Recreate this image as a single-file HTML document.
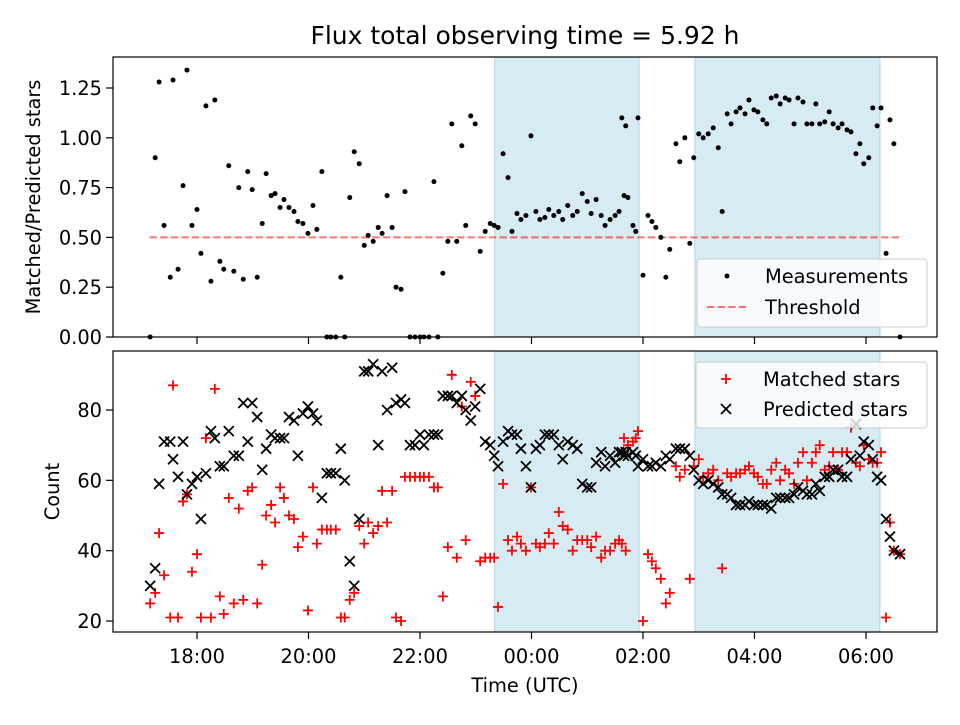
<!DOCTYPE html>
<html><head><meta charset="utf-8"><style>
body{margin:0;background:#fff}
svg text{font-family:"DejaVu Sans","Liberation Sans",sans-serif;fill:#000}
</style></head><body>
<svg id="chart" width="960" height="720" xmlns="http://www.w3.org/2000/svg"></svg>
<script>
const times=[17.16,17.25,17.32,17.41,17.52,17.57,17.66,17.75,17.82,17.91,18.00,18.07,18.16,18.25,18.32,18.41,18.48,18.57,18.66,18.75,18.83,18.91,18.99,19.08,19.17,19.24,19.33,19.40,19.49,19.56,19.65,19.74,19.81,19.90,19.99,20.08,20.15,20.24,20.33,20.40,20.49,20.58,20.65,20.74,20.82,20.91,21.00,21.07,21.16,21.25,21.32,21.41,21.50,21.57,21.66,21.73,21.82,21.91,22.00,22.07,22.16,22.25,22.32,22.41,22.50,22.57,22.66,22.75,22.82,22.91,22.99,23.08,23.17,23.26,23.33,23.40,23.49,23.58,23.65,23.74,23.81,23.90,23.99,24.08,24.15,24.24,24.31,24.40,24.49,24.56,24.65,24.74,24.82,24.91,25.00,25.07,25.16,25.25,25.32,25.41,25.50,25.57,25.66,25.73,25.62,25.69,25.82,25.87,25.91,26.00,26.09,26.16,26.23,26.32,26.41,26.48,26.59,26.66,26.75,26.84,26.91,27.00,27.08,27.17,27.26,27.35,27.42,27.51,27.58,27.67,27.74,27.83,27.90,27.99,28.06,28.15,28.22,28.30,28.39,28.46,28.55,28.62,28.71,28.78,28.87,28.94,29.03,29.10,29.17,29.26,29.34,29.41,29.50,29.57,29.66,29.73,29.82,29.89,29.96,30.05,30.12,30.20,30.27,30.36,30.43,30.50,30.61];
const ratio=[0,0.90,1.28,0.56,0.30,1.29,0.34,0.76,1.34,0.56,0.64,0.42,1.16,0.28,1.19,0.38,0.34,0.86,0.33,0.75,0.29,0.83,0.74,0.30,0.57,0.82,0.71,0.72,0.65,0.69,0.65,0.63,0.58,0.57,0.52,0.66,0.54,0.83,0,0,0,0.30,0,0.70,0.93,0.87,0.46,0.51,0.48,0.55,0.52,0.71,0.55,0.25,0.24,0.73,0,0,0,0,0,0.78,0,0.32,0.48,1.07,0.48,0.96,0.56,1.11,1.07,0.43,0.53,0.57,0.56,0.55,0.92,0.80,0.53,0.62,0.59,0.61,1.01,0.63,0.59,0.60,0.64,0.61,0.63,0.59,0.66,0.61,0.63,0.72,0.68,0.62,0.69,0.61,0.56,0.59,0.61,0.63,0.71,0.70,1.10,1.06,0.56,0.53,1.10,0.31,0.61,0.58,0.55,0.50,0.30,0.44,0.97,0.88,1.00,0.47,0.90,1.02,1.00,1.02,1.05,0.95,0.63,1.12,1.07,1.13,1.15,1.12,1.19,1.14,1.13,1.09,1.07,1.20,1.21,1.17,1.20,1.19,1.07,1.20,1.18,1.07,1.07,1.17,1.07,1.08,1.13,1.07,1.05,1.07,1.04,1.03,0.92,0.97,0.87,0.90,1.15,1.06,1.15,0.42,1.09,0.97,0];
const matched=[25,28,45,33,21,87,21,54,56,34,39,21,72,21,86,27,22,55,25,52,26,57,58,25,36,50,53,48,58,55,50,49,41,44,23,58,42,46,46,46,46,21,21,26,28,47,42,48,45,47,57,48,57,21,20,61,61,61,61,61,61,58,58,27,41,90,38,81,43,88,84,37,38,38,38,24,59,43,40,44,42,40,58,42,41,42,45,42,51,47,46,40,43,43,43,41,44,38,40,40,42,43,72,70,42,40,71,72,74,20,39,37,35,32,25,28,64,61,63,32,64,66,61,62,63,60,35,62,61,62,62,63,64,62,61,59,59,63,65,60,63,62,59,65,68,60,65,68,70,63,64,68,63,68,68,75,65,64,70,66,65,65,68,21,48,40,39];
const predicted=[30,35,59,71,71,66,61,71,56,59,61,49,62,74,72,64,64,74,67,67,82,71,82,78,63,69,73,72,72,72,78,77,67,79,81,79,77,55,62,62,62,69,60,37,30,49,91,91,93,70,91,80,92,82,83,82,70,70,73,70,73,73,73,84,84,84,82,84,80,77,81,86,71,70,67,64,71,74,73,73,69,64,58,69,70,73,73,73,70,66,71,70,69,59,58,58,65,68,64,67,65,68,67,67,68,68,68,67,64,66,64,64,65,64,67,66,69,69,69,67,63,60,59,60,59,58,56,56,55,53,53,53,54,53,53,53,53,52,55,55,55,55,56,58,57,56,56,59,57,61,61,63,63,61,61,66,76,67,71,70,66,61,60,49,44,40,39];
const spans=[[23.34,25.93],[26.93,30.25]];
const threshold=0.5, thrRange=[17.15,30.6];
const xTicks=[18,20,22,24,26,28,30];
const xTickLabels=["18:00","20:00","22:00","00:00","02:00","04:00","06:00"];
const topTicks=[0,0.25,0.5,0.75,1.0,1.25];
const botTicks=[20,40,60,80];

const NS="http://www.w3.org/2000/svg";
const svg=document.getElementById('chart');
function el(tag,attrs,parent){const e=document.createElementNS(NS,tag);for(const k in attrs)e.setAttribute(k,attrs[k]);(parent||svg).appendChild(e);return e;}
const L=113,R=937;
const FS=19.4;
const x=h=>197+(h-18)*55.75;
const T={top:57,bot:337}, B={top:351,bot:632};
const yT=v=>337-v*199.2;
const yB=c=>621-(c-20)*3.5167;

let t=el('text',{x:525,y:44,'text-anchor':'middle','font-size':25});t.textContent='Flux total observing time = 5.92 h';



function panel(P,name){
  const g=el('g',{});
  
  
  spans.forEach((s,i)=>{const r=el('rect',{x:x(s[0]),y:P.top,width:x(s[1])-x(s[0]),height:P.bot-P.top,fill:'#add8e6','fill-opacity':0.5,stroke:'#add8e6'},g);
    
    });
  return g;
}
const gT=panel(T,'top-panel');
const gB=panel(B,'bottom-panel');

let th=el('line',{x1:x(thrRange[0]),x2:x(thrRange[1]),y1:yT(threshold),y2:yT(threshold),stroke:'#ff0000','stroke-opacity':0.55,'stroke-width':2,'stroke-dasharray':'7.4,3.2'},gT);



times.forEach((h,i)=>{const c=el('circle',{cx:x(h),cy:yT(ratio[i]),r:2.5,fill:'#000'},gT);
  
  });

function plus(cx,cy,g){return el('path',{d:`M${cx-5},${cy}H${cx+5}M${cx},${cy-5}V${cy+5}`,stroke:'#f00','stroke-width':1.8},g);}
function cross(cx,cy,g){return el('path',{d:`M${cx-5},${cy-5}L${cx+5},${cy+5}M${cx-5},${cy+5}L${cx+5},${cy-5}`,stroke:'#000','stroke-width':1.8},g);}
times.forEach((h,i)=>{const p=plus(x(h),yB(matched[i]),gB);
  
  });
times.forEach((h,i)=>{const p=cross(x(h),yB(predicted[i]),gB);
  
  });

function axes(P,yticks,yf,fmt,showX,label,name){
  const f=el('rect',{x:L,y:P.top,width:R-L,height:P.bot-P.top,fill:'none',stroke:'#000','stroke-width':1.2});
  
  
  yticks.forEach(v=>{const yy=yf(v);el('line',{x1:L-7,x2:L,y1:yy,y2:yy,stroke:'#000','stroke-width':1.2});
    const tx=el('text',{x:L-11,y:yy+7,'text-anchor':'end','font-size':FS});tx.textContent=fmt(v);
    
    });
  xTicks.forEach((h,i)=>{el('line',{x1:x(h),x2:x(h),y1:P.bot,y2:P.bot+7,stroke:'#000','stroke-width':1.2});
    if(showX){const tx=el('text',{x:x(h),y:663,'text-anchor':'middle','font-size':FS});tx.textContent=xTickLabels[i];
      
      }});
  const cy=(P.top+P.bot)/2;
  const yl=el('text',{x:0,y:0,'text-anchor':'middle','font-size':FS,transform:`translate(${label[1]},${cy}) rotate(-90)`});yl.textContent=label[0];
  
  
}
axes(T,topTicks,yT,v=>v.toFixed(2),false,['Matched/Predicted stars',40],'top');
axes(B,botTicks,yB,v=>String(v),true,['Count',59],'bottom');
let xl=el('text',{x:525,y:692,'text-anchor':'middle','font-size':FS});xl.textContent='Time (UTC)';



function legendBox(x0,y0,w,h,name){const r=el('rect',{x:x0,y:y0,width:w,height:h,rx:3,fill:'#fff','fill-opacity':0.8,stroke:'#ccc'});
  
  }
legendBox(697,259,230,68,'top-legend');
let lc=el('circle',{cx:727,cy:276,r:2.5,fill:'#000'});


let lt=el('text',{x:765,y:283,'font-size':FS});lt.textContent='Measurements';
let ll=el('line',{x1:707,x2:747,y1:307,y2:307,stroke:'#f00','stroke-opacity':0.55,'stroke-width':2,'stroke-dasharray':'7.4,3.2'});


let lt2=el('text',{x:765,y:314,'font-size':FS});lt2.textContent='Threshold';
legendBox(696,362,231,66,'bottom-legend');
let lp=plus(726,379);


let lt3=el('text',{x:763,y:386,'font-size':FS});lt3.textContent='Matched stars';
let lx=cross(726,409);


let lt4=el('text',{x:763,y:416,'font-size':FS});lt4.textContent='Predicted stars';
</script>
</body></html>
